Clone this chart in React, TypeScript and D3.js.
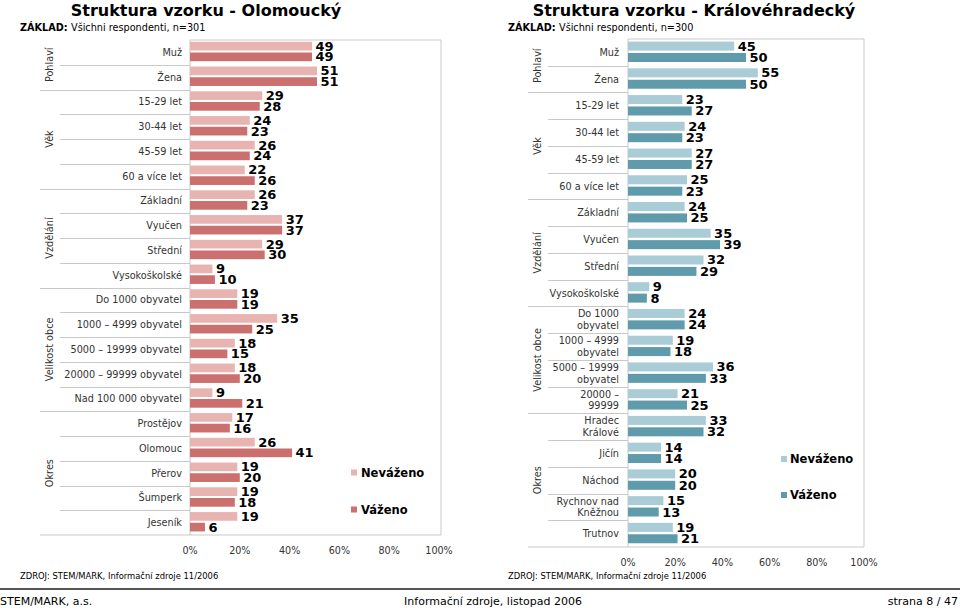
import React from "react";
import * as d3 from "d3";

// ---------- DATA ----------
const leftTitle = "Struktura vzorku - Olomoucký";
const leftBase = "Všichni respondenti, n=301";
const leftCategories = [
  "Muž", "Žena",
  "15-29 let", "30-44 let", "45-59 let", "60 a více let",
  "Základní", "Vyučen", "Střední", "Vysokoškolské",
  "Do 1000 obyvatel", "1000 – 4999 obyvatel", "5000 – 19999 obyvatel", "20000 – 99999 obyvatel", "Nad 100 000 obyvatel",
  "Prostějov", "Olomouc", "Přerov", "Šumperk", "Jeseník",
];
const leftUnweighted = [49, 51, 29, 24, 26, 22, 26, 37, 29, 9, 19, 35, 18, 18, 9, 17, 26, 19, 19, 19];
const leftWeighted = [49, 51, 28, 23, 24, 26, 23, 37, 30, 10, 19, 25, 15, 20, 21, 16, 41, 20, 18, 6];
const leftGroupNames = ["Pohlaví", "Věk", "Vzdělání", "Velikost obce", "Okres"];
const leftGroupSizes = [2, 4, 4, 5, 5];

const rightTitle = "Struktura vzorku - Královéhradecký";
const rightBase = "Všichni respondenti, n=300";
const rightCategories = [
  "Muž", "Žena",
  "15-29 let", "30-44 let", "45-59 let", "60 a více let",
  "Základní", "Vyučen", "Střední", "Vysokoškolské",
  "Do 1000\nobyvatel", "1000 – 4999\nobyvatel", "5000 – 19999\nobyvatel", "20000 –\n99999",
  "Hradec\nKrálové", "Jičín", "Náchod", "Rychnov nad\nKněžnou", "Trutnov",
];
const rightUnweighted = [45, 55, 23, 24, 27, 25, 24, 35, 32, 9, 24, 19, 36, 21, 33, 14, 20, 15, 19];
const rightWeighted = [50, 50, 27, 23, 27, 23, 25, 39, 29, 8, 24, 18, 33, 25, 32, 14, 20, 13, 21];
const rightGroupNames = ["Pohlaví", "Věk", "Vzdělání", "Velikost obce", "Okres"];
const rightGroupSizes = [2, 4, 4, 4, 5];

const seriesNames = ["Neváženo", "Váženo"];
const xTicks = [0, 20, 40, 60, 80, 100];
const sourceText = "ZDROJ: STEM/MARK, Informační zdroje 11/2006";
const footerLeft = "STEM/MARK, a.s.";
const footerCenter = "Informační zdroje, listopad 2006";
const footerRight = "strana 8 / 47";

// ---------- STYLE ----------
const FONT = "'DejaVu Sans', Verdana, sans-serif";
const GRID = "#c9c9c9";
const TEXT = "#333";

type PanelCfg = {
  title: string; base: string; categories: string[]; unw: number[]; w: number[];
  groupNames: string[]; groupSizes: number[]; colors: [string, string];
  titleX: number; baseX: number; xRange: [number, number]; frameRight: number;
  y0: number; y1: number; catLabelX: number; groupLabelX: number; innerSepX: number; groupSepX: number;
  barOffset: number; barH: number; barGap: number; tickY: number;
  legendSqX: number; legendY: [number, number]; legendTextX: number;
};

function Panel({ c }: { c: PanelCfg }) {
  const x = d3.scaleLinear().domain([0, 100]).range(c.xRange);
  const y = d3.scaleBand<number>().domain(d3.range(c.categories.length)).range([c.y0, c.y1]);
  const inner = d3.scaleBand<number>().domain([0, 1])
    .range([c.barOffset, c.barOffset + 2 * c.barH + c.barGap])
    .paddingInner(c.barGap / (c.barH + c.barGap));
  const bw = y.bandwidth();
  // group boundaries
  const bounds: number[] = [];
  let acc = 0;
  c.groupSizes.forEach((s) => { bounds.push(acc); acc += s; });
  const series = [c.unw, c.w];
  const x0 = c.xRange[0];

  return (
    <g fontFamily={FONT}>
      <text x={c.titleX} y={16} textAnchor="middle" fontWeight="bold" fontSize={16} fill="#000">{c.title}</text>
      <text x={c.baseX} y={31} fontSize={9.7} fill="#000">
        <tspan fontWeight="bold">ZÁKLAD: </tspan>{c.base}
      </text>

      {/* plot frame */}
      <line x1={x0} x2={c.frameRight} y1={c.y0} y2={c.y0} stroke={GRID} />
      <line x1={c.frameRight} x2={c.frameRight} y1={c.y0} y2={c.y1} stroke={GRID} />
      <line x1={x0} x2={x0} y1={c.y0} y2={c.y1} stroke={GRID} />
      <line x1={c.groupSepX} x2={c.frameRight} y1={c.y1} y2={c.y1} stroke={GRID} />

      {/* separators */}
      {c.categories.map((_, i) => {
        if (i === 0) return null;
        const isGroup = bounds.includes(i);
        const yy = Math.round(y(i)!) + 0.5;
        return <line key={"s" + i} x1={isGroup ? c.groupSepX : c.innerSepX} x2={x0} y1={yy} y2={yy} stroke={GRID} />;
      })}

      {/* group labels */}
      {c.groupNames.map((g, gi) => {
        const start = bounds[gi];
        const end = start + c.groupSizes[gi];
        const cy = (y(start)! + y(end - 1)! + bw) / 2;
        return (
          <text key={g} transform={`translate(${c.groupLabelX},${cy}) rotate(-90)`} textAnchor="middle"
            dominantBaseline="central" fontSize={9.7} fill={TEXT}>{g}</text>
        );
      })}

      {/* category labels */}
      {c.categories.map((cat, i) => {
        const lines = cat.split("\n");
        const cy = y(i)! + bw / 2;
        const lh = 11.7;
        return (
          <text key={"c" + i} x={c.catLabelX} textAnchor="end" fontSize={9.7} fill={TEXT}>
            {lines.map((ln, k) => (
              <tspan key={k} x={c.catLabelX} y={cy + (k - (lines.length - 1) / 2) * lh} dominantBaseline="central">{ln}</tspan>
            ))}
          </text>
        );
      })}

      {/* bars */}
      {series.map((vals, si) => (
        <g key={"ser" + si}>
          {vals.map((v, i) => {
            const by = y(i)! + inner(si)!;
            return (
              <g key={i}>
                <rect x={x0} y={by} width={x(v) - x0} height={inner.bandwidth()} fill={c.colors[si]} />
                <text x={x(v) + 3.5} y={by + inner.bandwidth() / 2} dominantBaseline="central"
                  fontWeight="bold" fontSize={13} fill="#000">{v}</text>
              </g>
            );
          })}
        </g>
      ))}

      {/* x tick labels */}
      {xTicks.map((t) => (
        <text key={"t" + t} x={x(t)} y={c.tickY} textAnchor="middle" dominantBaseline="central" fontSize={9.6} fill={TEXT}>{t}%</text>
      ))}

      {/* legend */}
      {seriesNames.map((s, si) => (
        <g key={s}>
          <rect x={c.legendSqX} y={c.legendY[si] - 3} width={6} height={6} fill={c.colors[si]} />
          <text x={c.legendTextX} y={c.legendY[si]} dominantBaseline="central" fontWeight="bold" fontSize={11.5} fill="#000">{s}</text>
        </g>
      ))}

      <text x={c.baseX} y={576} dominantBaseline="central" fontSize={8.4} fill="#000">{sourceText}</text>
    </g>
  );
}

const leftCfg: PanelCfg = {
  title: leftTitle, base: leftBase, categories: leftCategories, unw: leftUnweighted, w: leftWeighted,
  groupNames: leftGroupNames, groupSizes: leftGroupSizes, colors: ["#e8b4b2", "#cb6f6f"],
  titleX: 206, baseX: 20, xRange: [190, 439], frameRight: 441,
  y0: 40, y1: 535, catLabelX: 182, groupLabelX: 49, innerSepX: 60, groupSepX: 40,
  barOffset: 1.8, barH: 8.7, barGap: 2, tickY: 550,
  legendSqX: 351, legendY: [472.5, 509.5], legendTextX: 361,
};

const rightCfg: PanelCfg = {
  title: rightTitle, base: rightBase, categories: rightCategories, unw: rightUnweighted, w: rightWeighted,
  groupNames: rightGroupNames, groupSizes: rightGroupSizes, colors: ["#a9ccd6", "#5f9bab"],
  titleX: 694, baseX: 508, xRange: [628, 864], frameRight: 864,
  y0: 39, y1: 547, catLabelX: 619, groupLabelX: 537, innerSepX: 548, groupSepX: 528,
  barOffset: 2.6, barH: 9, barGap: 2.4, tickY: 562,
  legendSqX: 781, legendY: [459, 495], legendTextX: 790,
};

export default function App() {
  return (
    <svg width={960} height={608} style={{ position: "absolute", left: 0, top: 0, background: "#fff" }}>
      <rect width={960} height={608} fill="#fff" />
      <Panel c={leftCfg} />
      <Panel c={rightCfg} />
      <line x1={0} x2={960} y1={589} y2={589} stroke="#555" strokeWidth={2} />
      <g fontFamily={FONT} fontSize={11} fill="#000">
        <text x={0} y={601} dominantBaseline="central">{footerLeft}</text>
        <text x={493} y={601} textAnchor="middle" dominantBaseline="central">{footerCenter}</text>
        <text x={958} y={601} textAnchor="end" dominantBaseline="central">{footerRight}</text>
      </g>
    </svg>
  );
}
